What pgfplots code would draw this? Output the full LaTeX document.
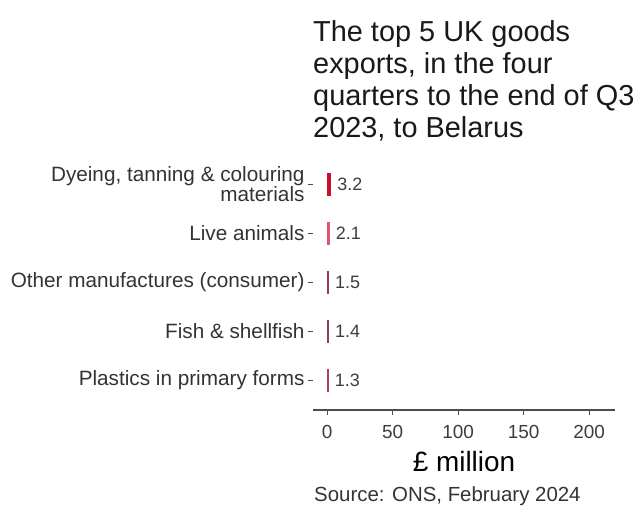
\documentclass[border=0pt]{standalone}
\usepackage{fontspec}
\setmainfont{Liberation Sans}
\usepackage{pgfplots}
\pgfplotsset{compat=1.18}
\definecolor{barA}{HTML}{C8102E}
\definecolor{barB}{HTML}{E0566F}
\definecolor{barC}{HTML}{9C3A5E}
\definecolor{barD}{HTML}{8E3B62}
\definecolor{barE}{HTML}{A8405F}
\definecolor{axisgray}{HTML}{4D4D4D}
\definecolor{labgray}{HTML}{333333}
\definecolor{valgray}{HTML}{3C3C3C}
\begin{document}
\begin{tikzpicture}[x=1bp,y=1bp]
\useasboundingbox (0,0) rectangle (643,508);
\begin{axis}[
  at={(313bp,98bp)}, anchor=south west,
  scale only axis, width=302bp, height=255bp,
  xmin=-10.7, xmax=219.8,
  ymin=-4.6, ymax=0.6,
  axis x line*=bottom, axis y line*=left,
  x axis line style={line width=1.5bp, color=axisgray, -},
  y axis line style={draw=none},
  xtick={0,50,100,150,200},
  ytick={0,-1,-2,-3,-4},
  yticklabels={{Dyeing, tanning \& colouring\\materials},{Live animals},{Other manufactures (consumer)},{Fish \& shellfish},{Plastics in primary forms}},
  tick align=outside, major tick length=5bp,
  tick style={color=axisgray, line width=1bp},
  /pgf/number format/assume math mode=true,
  xticklabel style={font=\fontsize{19}{21}\selectfont, text=valgray, anchor=base, yshift=-24bp},
  yticklabel style={font=\fontsize{20.8}{19}\selectfont, text=labgray, align=right},
  xlabel={£ million},
  xlabel style={at={(axis description cs:0.5,0)}, anchor=base, yshift=-62bp, font=\fontsize{28}{30}\selectfont, text=black},
  every axis plot/.append style={xbar, bar width=23bp, bar shift=0pt, draw=none},
  point meta=x,
  nodes near coords,
  nodes near coords style={anchor=west, inner sep=0pt, xshift=6bp, font=\fontsize{18}{20}\selectfont, text=valgray, /pgf/number format/fixed, /pgf/number format/precision=1, /pgf/number format/assume math mode=true},
]
\addplot[fill=barA] coordinates {(3.2,0)};
\addplot[fill=barB] coordinates {(2.1,-1)};
\addplot[fill=barC] coordinates {(1.5,-2)};
\addplot[fill=barD] coordinates {(1.4,-3)};
\addplot[fill=barE] coordinates {(1.3,-4)};
\end{axis}
\begin{scope}[every node/.style={anchor=base west, inner sep=0pt, font=\fontsize{29}{32}\selectfont, text=black!90}]
\node at (313,466) {The top 5 UK goods};
\node at (313,434) {exports, in the four};
\node at (313,402) {quarters to the end of Q3};
\node at (313,370) {2023, to Belarus};
\end{scope}
\node[anchor=base west, inner sep=0pt, font=\fontsize{20.5}{22}\selectfont, text=labgray] at (314,6) {Source: ONS, February 2024};
\end{tikzpicture}
\end{document}
